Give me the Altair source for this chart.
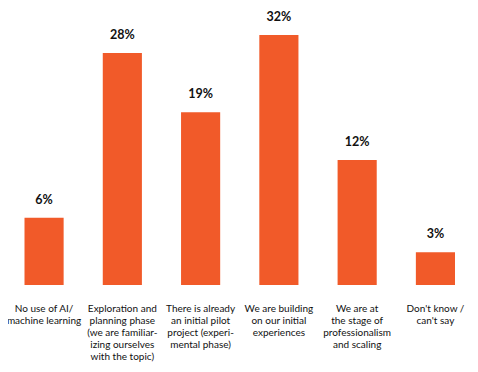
import altair as alt
import pandas as pd

categories = [
    "No use of AI/\nmachine learning",
    "Exploration and\nplanning phase\n(we are familiar-\nizing ourselves\nwith the topic)",
    "There is already\nan initial pilot\nproject (experi-\nmental phase)",
    "We are building\non our initial\nexperiences",
    "We are at\nthe stage of\nprofessionalism\nand scaling",
    "Don't know /\ncan't say",
]
labels = ["6%", "28%", "19%", "32%", "12%", "3%"]
# bar lengths as drawn in the reference (percent scale)
bar_length = [8.6, 29.7, 22.1, 32.0, 16.0, 4.2]

df = pd.DataFrame({"cat": categories, "label": labels, "v": bar_length})

FONT = "Lato"

x = alt.X(
    "cat:N",
    sort=categories,
    scale=alt.Scale(paddingInner=0.5, paddingOuter=0),
    axis=alt.Axis(
        title=None,
        labelAngle=0,
        domain=False,
        ticks=False,
        labelPadding=18,
        labelFont=FONT,
        labelFontSize=10,
        labelColor="#111111",
        labelLineHeight=12,
        labelBaseline="top",
        labelExpr="split(datum.label, '\\n')",
        labelLimit=200,
    ),
)
y = alt.Y("v:Q", scale=alt.Scale(domain=[0, 32], nice=False), axis=None)

bars = alt.Chart(df).mark_bar(color="#F15A29").encode(x=x, y=y)
text = alt.Chart(df).mark_text(
    dy=-18, font=FONT, fontSize=12.5, fontWeight="bold", color="#111111"
).encode(x=alt.X("cat:N", sort=categories), y="v:Q", text="label:N")

chart = (
    (bars + text)
    .properties(
        width=430.5,
        height=250,
        background="white",
        autosize=alt.AutoSizeParams(type="none"),
        padding={"left": 16.5, "top": 27, "right": 15, "bottom": 80},
    )
    .configure_view(stroke=None, strokeWidth=0)
)

chart.save("out.html", embed_options={"renderer": "svg", "actions": False})
